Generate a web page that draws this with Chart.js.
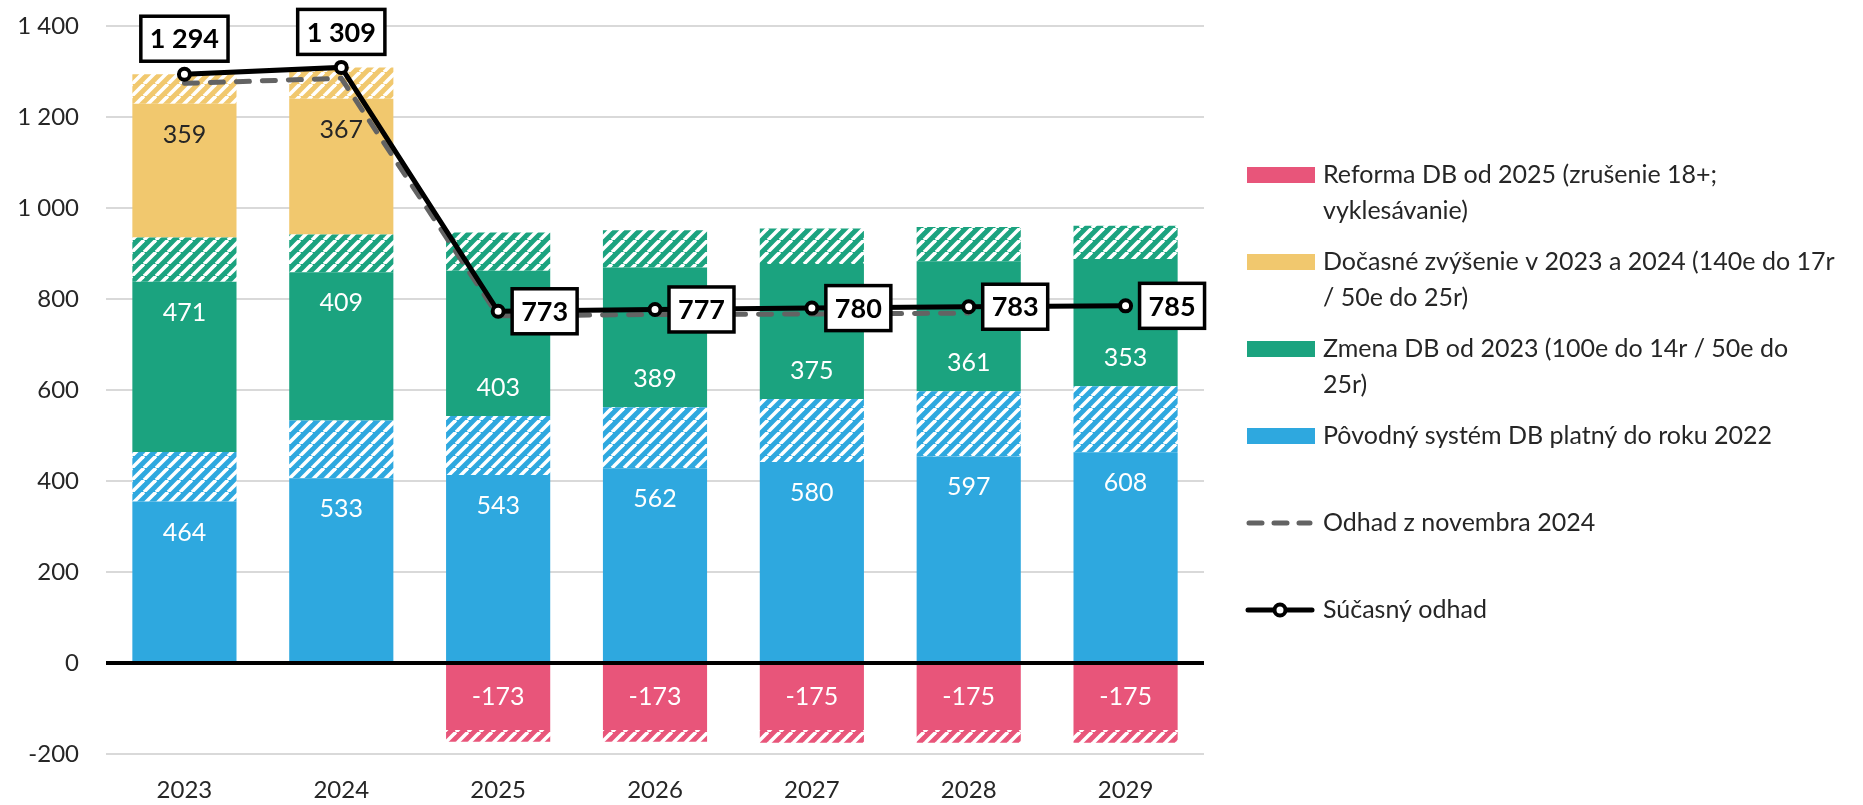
<!DOCTYPE html>
<html>
<head>
<meta charset="utf-8">
<script src="https://cdn.jsdelivr.net/npm/chart.js@4"></script>
<style>
  body { margin: 0; background: #fff; }
</style>
</head>
<body>
<canvas id="chart" width="1863" height="805"></canvas>
<script>
// Years on the x axis
const categories = ["2023", "2024", "2025", "2026", "2027", "2028", "2029"];

// Bar segments: full value of each segment and the hatched part of it (top / bottom end)
const povodnyValues = [464, 533, 543, 562, 580, 597, 608];
const povodnyHatched = [109, 127, 130, 134, 138, 143, 145];
const zmenaValues = [471, 409, 403, 389, 375, 361, 353];
const zmenaHatched = [97, 83, 84, 82, 78, 75, 73];
const docasneValues = [359, 367, null, null, null, null, null];
const docasneHatched = [65, 69, null, null, null, null, null];
const reformaValues = [null, null, -173, -173, -175, -175, -175];
const reformaHatched = [null, null, -26, -26, -28, -28, -28];

// Totals
const currentEstimate = [1294, 1309, 773, 777, 780, 783, 785];
const novemberEstimate = [1274, 1285, 763, 766, 767, 769, null];

const yTicks = { min: -200, max: 1400, step: 200 };

const legendLabels = [
    ["Reforma DB od 2025 (zrušenie 18+;", "vyklesávanie)"],
    ["Dočasné zvýšenie v 2023 a 2024 (140e do 17r", "/ 50e do 25r)"],
    ["Zmena DB od 2023 (100e do 14r / 50e do", "25r)"],
    ["Pôvodný systém DB platný do roku 2022"],
    ["Odhad z novembra 2024"],
    ["Súčasný odhad"]
];

const BLUE = "#2ea8df", GREEN = "#1ba37f", YELLOW = "#f1c86e", RED = "#e8557a";
const GREY = "#636363";
const FONT = "Lato, 'Open Sans', sans-serif";
const TEXT = "#262626";

// white "/" stripes over the segment colour
function hatch(color) {
    const s = 12;
    const c = document.createElement("canvas");
    c.width = c.height = s;
    const g = c.getContext("2d");
    g.fillStyle = color;
    g.fillRect(0, 0, s, s);
    g.strokeStyle = "#fff";
    g.lineWidth = 3.6;
    for (const k of [-s, 0, s]) {
        g.beginPath();
        g.moveTo(k, s);
        g.lineTo(k + s, 0);
        g.stroke();
    }
    return g.createPattern(c, "repeat");
}

const solidPart = (values, hatched) => values.map((v, i) => v == null ? null : v - hatched[i]);
const fmt = v => String(v).replace(/\B(?=(\d{3})+(?!\d))/g, " ");

const segments = [
    { values: povodnyValues, hatched: povodnyHatched, color: BLUE, text: "#fff" },
    { values: zmenaValues, hatched: zmenaHatched, color: GREEN, text: "#fff" },
    { values: docasneValues, hatched: docasneHatched, color: YELLOW, text: TEXT },
    { values: reformaValues, hatched: reformaHatched, color: RED, text: "#fff" }
];

const barDatasets = [];
segments.forEach(seg => {
    seg.solidIndex = barDatasets.length;
    barDatasets.push({
        type: "bar",
        data: solidPart(seg.values, seg.hatched),
        backgroundColor: seg.color,
        order: 3
    });
    barDatasets.push({
        type: "bar",
        data: seg.hatched,
        backgroundColor: hatch(seg.color),
        order: 3
    });
});

// value labels inside the bars (full segment value)
const barLabels = {
    id: "barLabels",
    afterDatasetsDraw(chart) {
        const ctx = chart.ctx;
        const line = chart.getDatasetMeta(chart.data.datasets.length - 1);
        ctx.save();
        ctx.font = "25px " + FONT;
        ctx.textAlign = "center";
        ctx.textBaseline = "middle";
        segments.forEach(seg => {
            const meta = chart.getDatasetMeta(seg.solidIndex);
            meta.data.forEach((bar, i) => {
                const v = seg.values[i];
                if (v == null) return;
                let y;
                if (v < 0) {
                    y = (bar.y + bar.base) / 2;
                } else {
                    // keep clear of the total marker when it sits inside this segment
                    const p = line.data[i].y;
                    y = (p > bar.y && p < bar.base) ? bar.base - 28 : bar.y + 31;
                }
                ctx.fillStyle = seg.text;
                ctx.fillText(fmt(v), bar.x, y);
            });
        });
        ctx.restore();
    }
};

// black zero line over the bars
const zeroLine = {
    id: "zeroLine",
    afterDatasetsDraw(chart) {
        const { ctx, chartArea, scales } = chart;
        const y = scales.y.getPixelForValue(0);
        ctx.save();
        ctx.strokeStyle = "#000";
        ctx.lineWidth = 4;
        ctx.beginPath();
        ctx.moveTo(chartArea.left, y);
        ctx.lineTo(chartArea.right, y);
        ctx.stroke();
        ctx.restore();
    }
};

// boxed labels for the current estimate
const totalLabels = {
    id: "totalLabels",
    afterDatasetsDraw(chart) {
        const ctx = chart.ctx;
        const meta = chart.getDatasetMeta(chart.data.datasets.length - 1);
        ctx.save();
        ctx.font = "bold 27px " + FONT;
        ctx.textAlign = "center";
        ctx.textBaseline = "middle";
        meta.data.forEach((pt, i) => {
            const text = fmt(currentEstimate[i]);
            const w = ctx.measureText(text).width + 18;
            const h = 45;
            let cx, cy;
            if (i < 2) {
                cx = pt.x;
                cy = pt.y - 13 - h / 2;
            } else {
                cx = pt.x + 14 + w / 2;
                cy = pt.y;
            }
            ctx.fillStyle = "#fff";
            ctx.fillRect(cx - w / 2, cy - h / 2, w, h);
            ctx.strokeStyle = "#000";
            ctx.lineWidth = 3.5;
            ctx.strokeRect(cx - w / 2, cy - h / 2, w, h);
            ctx.fillStyle = "#000";
            ctx.fillText(text, cx, cy + 1);
        });
        ctx.restore();
    }
};

// legend on the right side
const sideLegend = {
    id: "sideLegend",
    afterDraw(chart) {
        const ctx = chart.ctx;
        const kinds = [
            { kind: "box", color: RED },
            { kind: "box", color: YELLOW },
            { kind: "box", color: GREEN },
            { kind: "box", color: BLUE },
            { kind: "dash", color: GREY },
            { kind: "line", color: "#000" }
        ];
        ctx.save();
        ctx.font = "25px " + FONT;
        ctx.textBaseline = "middle";
        legendLabels.forEach((lines, n) => {
            const y = 175 + n * 87;
            const k = kinds[n];
            if (k.kind === "box") {
                ctx.fillStyle = k.color;
                ctx.fillRect(1247, y - 8, 68, 16);
            } else if (k.kind === "dash") {
                ctx.strokeStyle = k.color;
                ctx.lineWidth = 5;
                ctx.lineCap = "round";
                ctx.setLineDash([13, 12]);
                ctx.beginPath();
                ctx.moveTo(1249, y);
                ctx.lineTo(1310, y);
                ctx.stroke();
                ctx.setLineDash([]);
            } else {
                ctx.strokeStyle = k.color;
                ctx.lineWidth = 5;
                ctx.lineCap = "round";
                ctx.beginPath();
                ctx.moveTo(1248, y);
                ctx.lineTo(1312, y);
                ctx.stroke();
                ctx.beginPath();
                ctx.arc(1280, y, 5.5, 0, Math.PI * 2);
                ctx.fillStyle = "#fff";
                ctx.fill();
                ctx.lineWidth = 4;
                ctx.stroke();
            }
            ctx.fillStyle = TEXT;
            lines.forEach((line, j) => ctx.fillText(line, 1323, y + j * 36));
        });
        ctx.restore();
    }
};

const ctx = document.getElementById("chart").getContext("2d");
new Chart(ctx, {
    type: "bar",
    data: {
        labels: categories,
        datasets: [
            ...barDatasets,
            {
                type: "line",
                data: novemberEstimate,
                stack: "november",
                borderColor: GREY,
                borderWidth: 5,
                borderDash: [13, 13],
                borderCapStyle: "round",
                pointRadius: 0,
                tension: 0,
                order: 2
            },
            {
                type: "line",
                data: currentEstimate,
                stack: "current",
                borderColor: "#000",
                borderWidth: 5,
                pointRadius: 5.5,
                pointBorderWidth: 4,
                pointBackgroundColor: "#fff",
                pointBorderColor: "#000",
                tension: 0,
                order: 1
            }
        ]
    },
    options: {
        responsive: false,
        animation: false,
        datasets: {
            bar: { categoryPercentage: 1, barPercentage: 0.664, borderWidth: 0 }
        },
        layout: { padding: { top: 26, right: 659, left: 0, bottom: 0 } },
        plugins: {
            legend: { display: false },
            tooltip: { enabled: false }
        },
        scales: {
            x: {
                stacked: true,
                grid: { display: false },
                border: { display: false },
                ticks: { color: TEXT, font: { family: FONT, size: 24 }, padding: 14 },
                afterFit: scale => { scale.height = 51; }
            },
            y: {
                stacked: true,
                min: yTicks.min,
                max: yTicks.max,
                // invisible tick marks give the gap between labels and plot
                grid: { color: "#d9d9d9", lineWidth: 2, drawTicks: true, tickLength: 25, tickColor: "rgba(0,0,0,0)" },
                border: { display: false },
                ticks: {
                    stepSize: yTicks.step,
                    color: TEXT,
                    font: { family: FONT, size: 24 },
                    padding: 2,
                    callback: v => fmt(v)
                },
                afterFit: scale => { scale.width = 106; }
            }
        }
    },
    plugins: [barLabels, zeroLine, totalLabels, sideLegend]
});
</script>
</body>
</html>
